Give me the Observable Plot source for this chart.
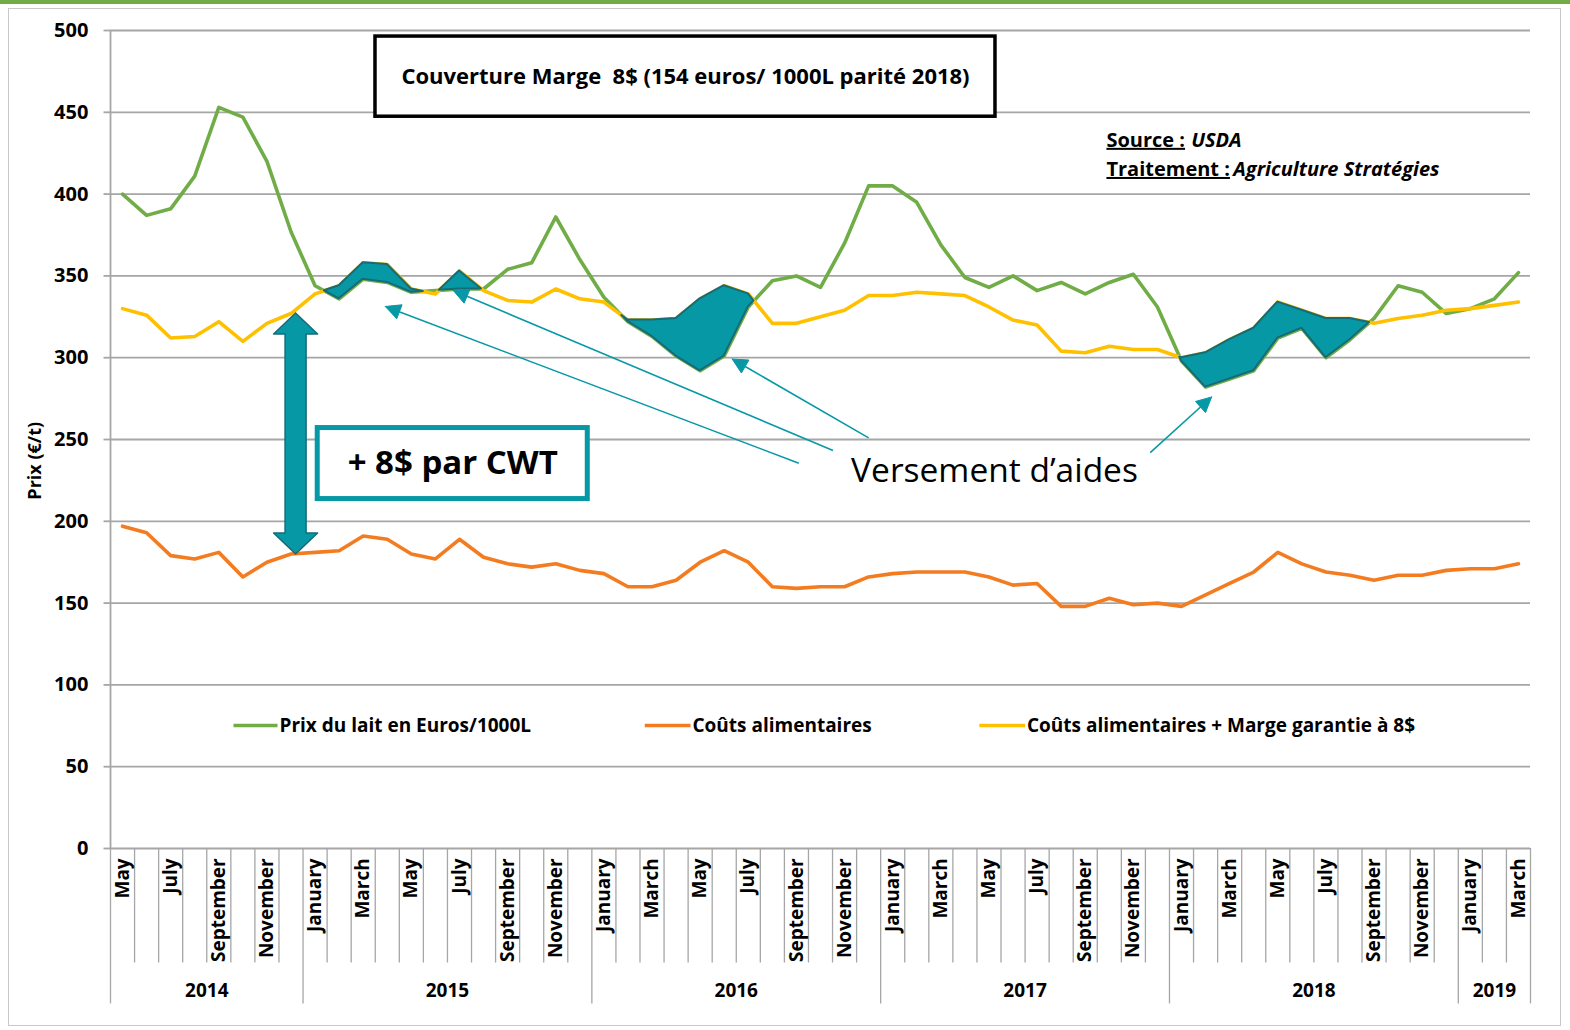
<!DOCTYPE html>
<html><head><meta charset="utf-8">
<script src="https://cdn.jsdelivr.net/npm/d3@7"></script>
<script src="https://cdn.jsdelivr.net/npm/@observablehq/plot@0.6"></script>
<style>
body{margin:0;background:#fff;}
#wrap{position:relative;width:1570px;height:1030px;overflow:hidden;background:#fff;}
#chart{position:absolute;left:0;top:0;}
#frame{position:absolute;left:8px;top:8px;width:1553px;height:1018px;border:1.5px solid #c9c9c9;box-sizing:border-box;pointer-events:none;}
#topbar{position:absolute;left:0;top:0;width:1570px;height:4px;background:#70ad47;}
g.underlined text{text-decoration:underline;}
</style></head><body>
<div id="wrap"><div id="chart"></div><div id="frame"></div><div id="topbar"></div></div>
<script>
// ---------- DATA ----------
const monthNames = ["January","February","March","April","May","June","July","August","September","October","November","December"];
const years = ["2014","2015","2016","2017","2018","2019"];
const monthsPerYear = [8, 12, 12, 12, 12, 3];   // May 2014 .. March 2019
const firstMonth = 4; // May

// Prix du lait en Euros/1000L
const milkPrice = [400,387,391,411,453,447,420,377,
  344,336,348,346,340,341,342,342,354,358,386,360,
  337,322,313,301,292,301,331,347,350,343,370,405,
  405,395,369,349,343,350,341,346,339,346,351,331,
  298,282,287,292,312,318,300,311,324,344,340,327,
  330,336,352];
// Coûts alimentaires
const feedCost = [197,193,179,177,181,166,175,180,
  181,182,191,189,180,177,189,178,174,172,174,170,
  168,160,160,164,175,182,175,160,159,160,160,166,
  168,169,169,169,166,161,162,148,148,153,149,150,
  148,155,162,169,181,174,169,167,164,167,167,170,
  171,171,174];
// Coûts alimentaires + Marge garantie à 8$
const feedPlusMargin = [330,326,312,313,322,310,321,327,
  339,344,358,357,342,339,353,341,335,334,342,336,
  334,323,323,324,336,344,339,321,321,325,329,338,
  338,340,339,338,331,323,320,304,303,307,305,305,
  300,303,311,318,334,329,324,324,321,324,326,329,
  330,332,334];

// Periods of aid payments (Versement d'aides), month keys
const aidPeriods = [["2015-01","2015-06"],["2015-06","2015-08"],["2016-01","2016-08"],["2017-12","2018-09"]];

const yTicks = [0,50,100,150,200,250,300,350,400,450,500];

const colors = {milk:"#70ad47", feed:"#f47c20", cover:"#ffc000", teal:"#0798a6", tealDark:"#176b76", grid:"#a6a6a6"};

// Annotation anchors in data units (x = month index, y = €/t)
const titleBox = {x1:11.01, x2:36.77, y1:447.3, y2:496.3, text:"Couverture Marge  8$ (154 euros/ 1000L parité 2018)"};
const cwtBox = {x1:8.61, x2:19.83, y1:213.6, y2:257, text:"+ 8$ par CWT"};
const doubleArrow = {x:7.69, yTop:327.3, yBottom:180};
const aidLabel = {x:36.73, y:230.4, text:"Versement d’aides"};
const aidArrows = [
  {from:[28.6,235.5], to:[11.42,331.3]},
  {from:[30.02,243.3], to:[14.24,341.1]},
  {from:[31.5,251.0], to:[25.83,299.2]},
  {from:[43.2,242.0], to:[45.75,276.0]}
];
const legendItems = [
  {label:"Prix du lait en Euros/1000L", color:colors.milk, x1:5.11, x2:6.94},
  {label:"Coûts alimentaires", color:colors.feed, x1:22.2, x2:24.1},
  {label:"Coûts alimentaires + Marge garantie à 8$", color:colors.cover, x1:36.1, x2:38.0}
];
const legendY = 75.2;
const sourceLines = [
  {label:"Source :", value:"USDA", y:432.8, xValue:44.9},
  {label:"Traitement :", value:"Agriculture Stratégies", y:415.0, xValue:46.65}
];
const sourceX = 41.38;

// ---------- BUILD ----------
const N = milkPrice.length;
const rows = [], keys = [];
for (let i = 0; i < N; i++) {
  const m = (firstMonth + i) % 12, y = 2014 + Math.floor((firstMonth + i) / 12);
  const key = y + "-" + String(m + 1).padStart(2, "0");
  keys.push(key);
  rows.push({i, x:i + 0.5, key, month:monthNames[m], milk:milkPrice[i], feed:feedCost[i], cover:feedPlusMargin[i]});
}
const yearBounds = [0];
monthsPerYear.forEach(n => yearBounds.push(yearBounds[yearBounds.length - 1] + n));
const yearLabels = years.map((y, k) => ({year:y, x:(yearBounds[k] + yearBounds[k + 1]) / 2}));
const monthBounds = d3.range(1, N).filter(b => !yearBounds.includes(b));
const monthTickRows = rows.filter(r => r.i % 2 === 0);

// Aid area points (between milk price and covered cost, crossings interpolated)
const aidPts = [];
aidPeriods.forEach(([from, to], id) => {
  const a = keys.indexOf(from), b = keys.indexOf(to);
  for (let i = a; i <= b; i++) {
    const d = feedPlusMargin[i] - milkPrice[i];
    if (d >= 0) aidPts.push({x:i + 0.5, y1:milkPrice[i], y2:feedPlusMargin[i], id});
    if (i < b) {
      const d2 = feedPlusMargin[i + 1] - milkPrice[i + 1];
      if ((d < 0 && d2 > 0) || (d > 0 && d2 < 0)) {
        const t = d / (d - d2);
        const v = milkPrice[i] + t * (milkPrice[i + 1] - milkPrice[i]);
        aidPts.push({x:i + 0.5 + t, y1:v, y2:v, id});
      }
    }
  }
});

// pixel-size helpers for annotation shapes
const W = 1570, H = 1030, mL = 110, mR = 40, mT = 30, mB = 182;
const PX = (W - mL - mR) / N, PY = (H - mT - mB) / 500;
const toData = (x0, y0, dx, dy) => ({x:x0 + dx / PX, y:y0 - dy / PY});

const heads = [], shafts = [];
aidArrows.forEach((a, k) => {
  const dx = (a.to[0] - a.from[0]) * PX, dy = -(a.to[1] - a.from[1]) * PY;
  const len = Math.hypot(dx, dy), ux = dx / len, uy = dy / len;
  const L = 15, Wd = 7.5;
  const bx = -ux * L, by = -uy * L;
  [[0,0],[bx - uy * Wd, by + ux * Wd],[bx + uy * Wd, by - ux * Wd],[0,0]].forEach(p => {
    const q = toData(a.to[0], a.to[1], p[0], p[1]); heads.push({...q, k});
  });
  const s = toData(a.to[0], a.to[1], bx * 0.7, by * 0.7);
  shafts.push({x1:a.from[0], y1:a.from[1], x2:s.x, y2:s.y});
});

const dH = (doubleArrow.yTop - doubleArrow.yBottom) * PY;
const dblPts = [[0,0],[22,21],[10.5,21],[10.5,dH - 21],[22,dH - 21],[0,dH],[-22,dH - 21],[-10.5,dH - 21],[-10.5,21],[-22,21],[0,0]]
  .map(p => toData(doubleArrow.x, doubleArrow.yTop, p[0], p[1]));

const F = "'Open Sans', 'DejaVu Sans', sans-serif";

const plot = Plot.plot({
  width: W, height: H,
  marginLeft: mL, marginRight: mR, marginTop: mT, marginBottom: mB,
  x: {type:"linear", domain:[0, N], axis:null},
  y: {type:"linear", domain:[0, 500], axis:null},
  style: {fontFamily: F, background: "transparent", color: "#000"},
  marks: [
    // grid + axes
    Plot.ruleY(yTicks, {x1:0, x2:N, stroke:colors.grid, strokeWidth:1.8}),
    Plot.ruleY(yTicks, {x1:-0.27, x2:0, stroke:colors.grid, strokeWidth:1.8}),
    Plot.ruleX(monthBounds, {y1:0, y2:-70, stroke:colors.grid, strokeWidth:1.3}),
    Plot.ruleX(yearBounds, {y1:0, y2:-95, stroke:colors.grid, strokeWidth:1.3}),
    Plot.ruleX([0], {y1:0, y2:500, stroke:colors.grid, strokeWidth:1.8}),
    Plot.text(yTicks, {x:-0.92, y:d => d, text:d => String(d), textAnchor:"end", fontSize:20, fontWeight:"bold"}),
    Plot.text(["Prix (€/t)"], {x:-3.12, y:237, text:d => d, rotate:-90, fontSize:18, fontWeight:"bold"}),
    Plot.text(monthTickRows, {x:"x", y:-6, text:"month", rotate:-90, textAnchor:"end", fontSize:19, fontWeight:"bold"}),
    Plot.text(yearLabels, {x:"x", y:-87, text:"year", fontSize:19, fontWeight:"bold"}),
    // series
    Plot.line(rows, {x:"x", y:"feed", stroke:colors.feed, strokeWidth:3.6}),
    Plot.line(rows, {x:"x", y:"milk", stroke:colors.milk, strokeWidth:3.6}),
    Plot.line(rows, {x:"x", y:"cover", stroke:colors.cover, strokeWidth:3.6}),
    Plot.areaY(aidPts, {x:"x", y1:"y1", y2:"y2", z:"id", fill:colors.teal, stroke:colors.tealDark, strokeWidth:2, strokeLinejoin:"round"}),
    // legend
    Plot.link(legendItems, {x1:"x1", x2:"x2", y1:legendY, y2:legendY, stroke:"color", strokeWidth:3.6}),
    Plot.text(legendItems, {x:d => d.x2 + 0.08, y:legendY, text:"label", textAnchor:"start", fontSize:19, fontWeight:"bold"}),
    // title box
    Plot.rect([titleBox], {x1:"x1", x2:"x2", y1:"y1", y2:"y2", fill:"white", stroke:"black", strokeWidth:3.5}),
    Plot.text([titleBox], {x:d => (d.x1 + d.x2) / 2, y:d => (d.y1 + d.y2) / 2, text:"text", fontSize:22, fontWeight:"bold"}),
    // source
    Plot.text(sourceLines, {x:sourceX, y:"y", text:"label", textAnchor:"start", fontSize:20, fontWeight:"bold", className:"underlined", ariaLabel:"underlined"}),
    Plot.text(sourceLines, {x:"xValue", y:"y", text:"value", textAnchor:"start", fontSize:20, fontWeight:"bold", fontStyle:"italic"}),
    // double arrow + CWT box
    Plot.line(dblPts, {x:"x", y:"y", fill:colors.teal, stroke:colors.tealDark, strokeWidth:1.5}),
    Plot.rect([cwtBox], {x1:"x1", x2:"x2", y1:"y1", y2:"y2", fill:"white", stroke:colors.teal, strokeWidth:5}),
    Plot.text([cwtBox], {x:d => (d.x1 + d.x2) / 2, y:d => (d.y1 + d.y2) / 2, text:"text", fontSize:33, fontWeight:"bold"}),
    // aid arrows
    Plot.link(shafts, {x1:"x1", y1:"y1", x2:"x2", y2:"y2", stroke:colors.teal, strokeWidth:1.6}),
    Plot.line(heads, {x:"x", y:"y", z:"k", fill:colors.teal, stroke:colors.teal, strokeWidth:1}),
    Plot.text([aidLabel], {x:"x", y:"y", text:"text", fontSize:33.5, fontWeight:"normal"})
  ]
});
plot.querySelectorAll('g[aria-label="underlined"] text').forEach(t => {
  t.setAttribute("text-decoration", "underline");
  t.style.textDecoration = "underline";
});
document.getElementById("chart").appendChild(plot);
</script>
</body></html>
